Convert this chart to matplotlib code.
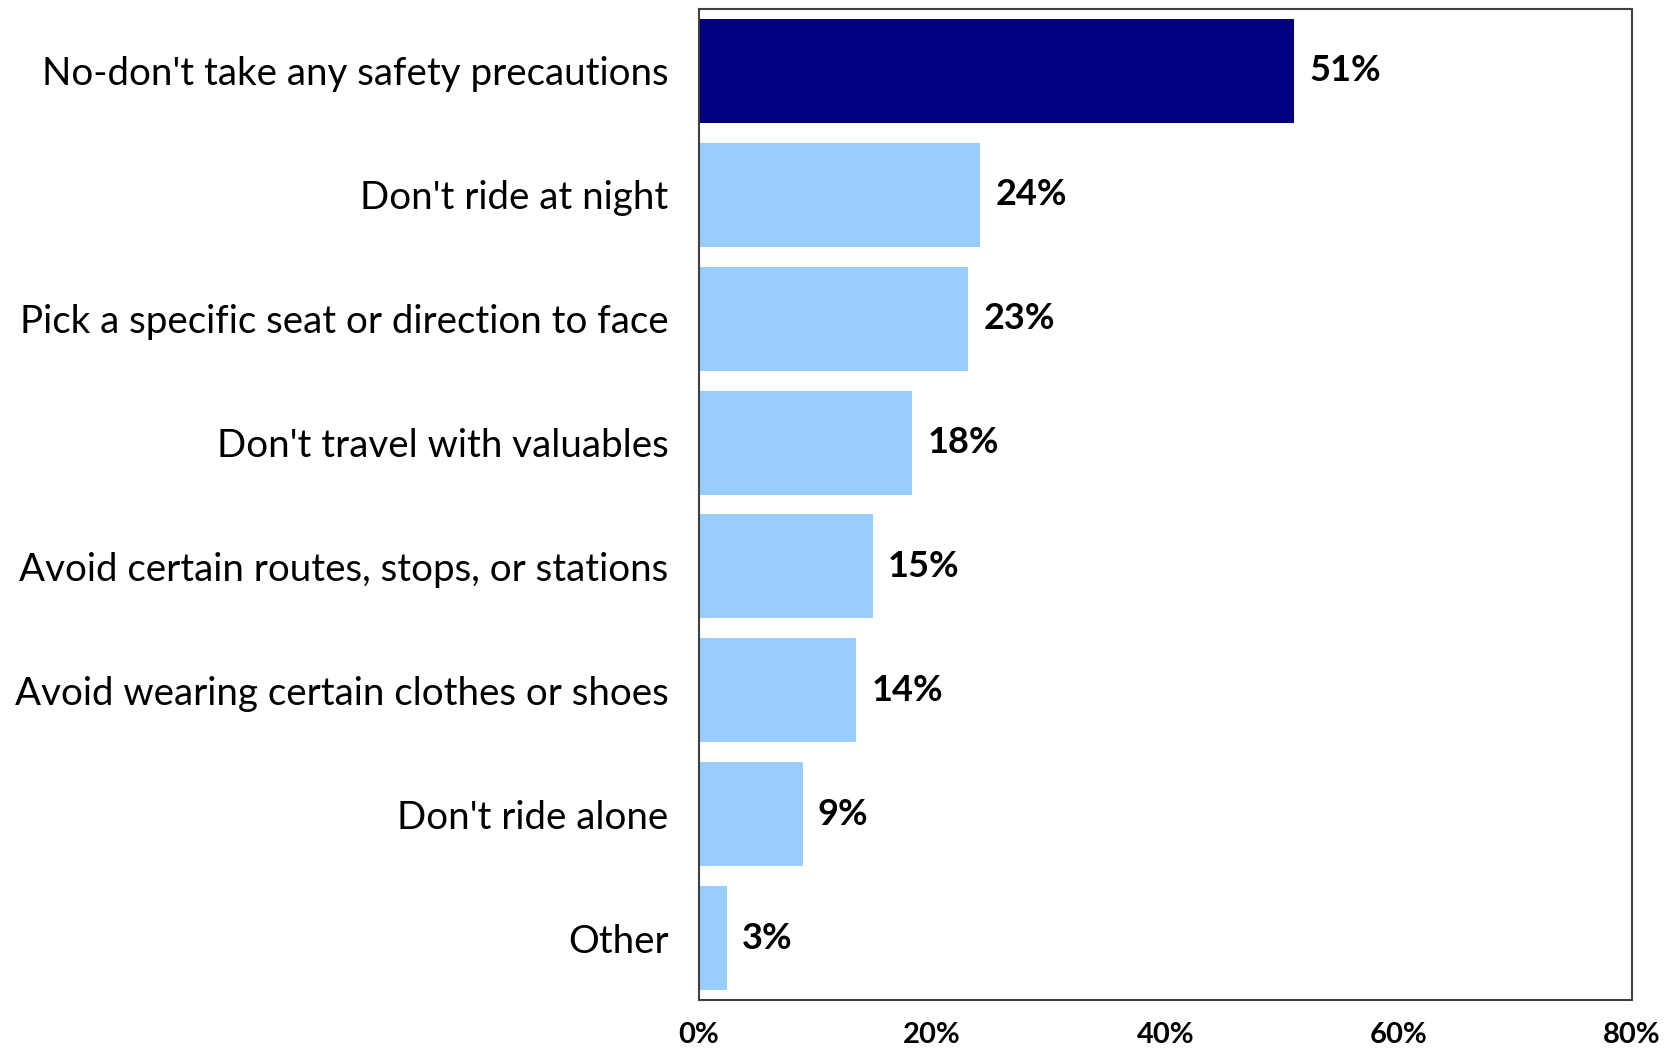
import matplotlib.pyplot as plt
import numpy as np

# Datos del grafico
categorias = ["No-don't take any safety precautions", "Don't ride at night",
              "Pick a specific seat or direction to face", "Don't travel with valuables",
              "Avoid certain routes, stops, or stations", "Avoid wearing certain clothes or shoes",
              "Don't ride alone", "Other"]
valores = [51.0, 24.1, 23.1, 18.3, 14.9, 13.5, 8.9, 2.4]  # largo de barra
etiquetas = ['51%', '24%', '23%', '18%', '15%', '14%', '9%', '3%']
ticks_x = [0, 20, 40, 60, 80]

colores = ['#000080'] + ['#99CCFF'] * (len(valores) - 1)

fig = plt.figure(figsize=(16.69, 10.5), dpi=100)
ax = fig.add_axes([0.4188, 0.0476, 0.5590, 0.9438])

posiciones = np.arange(len(categorias))
ax.barh(posiciones, valores, height=0.84, color=colores)
for p, v, e in zip(posiciones, valores, etiquetas):
    ax.text(v + 1.3, p, e, va='center', ha='left', fontsize=26,
            fontweight='bold', family='Lato')

ax.set_xlim(0, 80)
ax.set_ylim(len(categorias) - 0.5, -0.5)
ax.set_yticks(posiciones)
ax.set_yticklabels(categorias, fontsize=27.7, family='Lato')
ax.set_xticks(ticks_x)
ax.set_xticklabels([f'{t}%' for t in ticks_x], fontsize=21, fontweight='bold', family='Lato')
ax.tick_params(axis='y', length=0, pad=22)
ax.tick_params(axis='x', length=0, pad=16)
for s in ax.spines.values():
    s.set_color('#404040')
    s.set_linewidth(1.5)

plt.savefig('out.png', dpi=100)
